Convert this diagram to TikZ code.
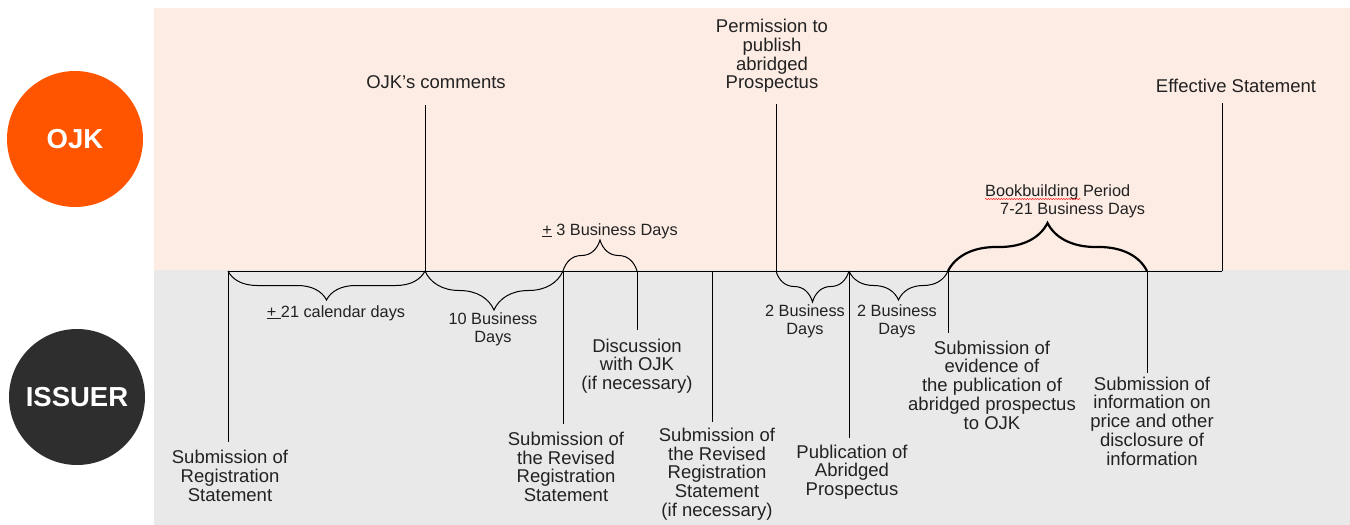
\documentclass[tikz,border=0pt]{standalone}
\usepackage{fontspec}
\setmainfont{Liberation Sans}
\usetikzlibrary{decorations.pathreplacing,decorations.pathmorphing}
\definecolor{ojkorange}{HTML}{FF5500}
\definecolor{issuergray}{HTML}{2E2E2E}
\definecolor{ojkband}{HTML}{FDECE4}
\definecolor{issuerband}{HTML}{E9E9E9}
\definecolor{txt}{HTML}{222222}
\begin{document}
\begin{tikzpicture}[x=1pt, y=-1pt,
  lbl/.style={text=txt, align=center, inner sep=1pt, font=\fontsize{18.5}{18.7}\selectfont},
  dur/.style={text=txt, align=center, inner sep=1pt, font=\fontsize{16.3}{18.3}\selectfont},
  party/.style={circle, inner sep=0pt, minimum size=136pt, text=white, font=\fontsize{27.5}{30}\selectfont\bfseries},
  tick/.style={line width=1pt, draw=black},
  dbrace/.style={decorate, decoration={brace, mirror, amplitude=#1}, line width=1pt},
  ubrace/.style={decorate, decoration={brace, amplitude=#1}, line width=1pt}]

\useasboundingbox (0,0) rectangle (1350,525);
\fill [ojkband] (154,8) rectangle (1350,270);
\fill [issuerband] (154,270) rectangle (1350,525);

\node [party, fill=ojkorange] (ojk) at (75,139) {OJK};
\node [party, fill=issuergray] (issuer) at (77,397) {ISSUER};

\coordinate (reg) at (228,271);
\coordinate (cmt) at (425,271);
\coordinate (rev) at (563,271);
\coordinate (dsc) at (637,271);
\coordinate (rev2) at (712,271);
\coordinate (perm) at (776,271);
\coordinate (pub) at (849,271);
\coordinate (evid) at (948,271);
\coordinate (price) at (1147,271);
\coordinate (eff) at (1222,271);

\draw [tick] (reg) -- (eff);

\node [lbl] (regtxt) at (230,476) {Submission of\\Registration\\Statement};
\node [lbl] (revtxt) at (566,467) {Submission of\\the Revised\\Registration\\Statement};
\node [lbl] (dsctxt) at (637,366) {Discussion\\with OJK\\(if necessary)};
\node [lbl] (rev2txt) at (717,474) {Submission of\\the Revised\\Registration\\Statement\\(if necessary)};
\node [lbl] (pubtxt) at (852,472) {Publication of\\Abridged\\Prospectus};
\node [lbl] (evidtxt) at (992,385) {Submission of\\evidence of\\the publication of\\abridged prospectus\\to OJK};
\node [lbl] (pricetxt) at (1152,421) {Submission of\\information on\\price and other\\disclosure of\\information};

\node [lbl, anchor=base] (cmttxt) at (436,88) {OJK's comments};
\node [lbl] (permtxt) at (772,56) {Permission to\\publish\\abridged\\Prospectus};
\node [lbl, anchor=base] (efftxt) at (1236,92) {Effective Statement};

\draw [tick, shorten >=7pt] (reg) -- (reg |- regtxt.north);
\draw [tick, shorten >=7pt] (rev) -- (rev |- revtxt.north);
\draw [tick, shorten >=7pt] (dsc) -- (dsc |- dsctxt.north);
\draw [tick, shorten >=5pt] (rev2) -- (rev2 |- rev2txt.north);
\draw [tick, shorten >=5pt] (pub) -- (pub |- pubtxt.north);
\draw [tick, shorten >=7pt] (evid) -- (evid |- evidtxt.north);
\draw [tick, shorten >=3pt] (price) -- (price |- pricetxt.north);
\draw [tick, shorten >=16pt] (cmt) -- (cmt |- cmttxt.south);
\draw [tick, shorten >=10pt] (perm) -- (perm |- permtxt.south);
\draw [tick, shorten >=10pt] (eff) -- (eff |- efftxt.south);

\draw [dbrace=29pt] (reg) -- (cmt);
\draw [dbrace=39pt] (cmt) -- (rev);
\draw [ubrace=31pt] (rev) -- (dsc);
\draw [dbrace=31pt] (perm) -- (pub);
\draw [dbrace=29pt] (pub) -- (evid);
\draw [ubrace=48pt, line width=2.2pt] (evid) -- (price);

\node [dur] (cal21) at (336,313) {\underline{+\ }21 calendar days};
\node [dur] (bus10) at (493,329) {10 Business\\Days};
\node [dur] (bus3) at (610,231) {\underline{+} 3 Business Days};
\node [dur] (bus2a) at (805,321) {2 Business\\Days};
\node [dur] (bus2b) at (897,321) {2 Business\\Days};
\node [dur, align=left, anchor=west] (bbtxt) at (984,201) {Bookbuilding Period\\\hspace*{15pt}7-21 Business Days};
\draw [red, decorate, decoration={snake, amplitude=0.6pt, segment length=2.6pt}] (985,199) -- (1081,199);
\end{tikzpicture}
\end{document}
